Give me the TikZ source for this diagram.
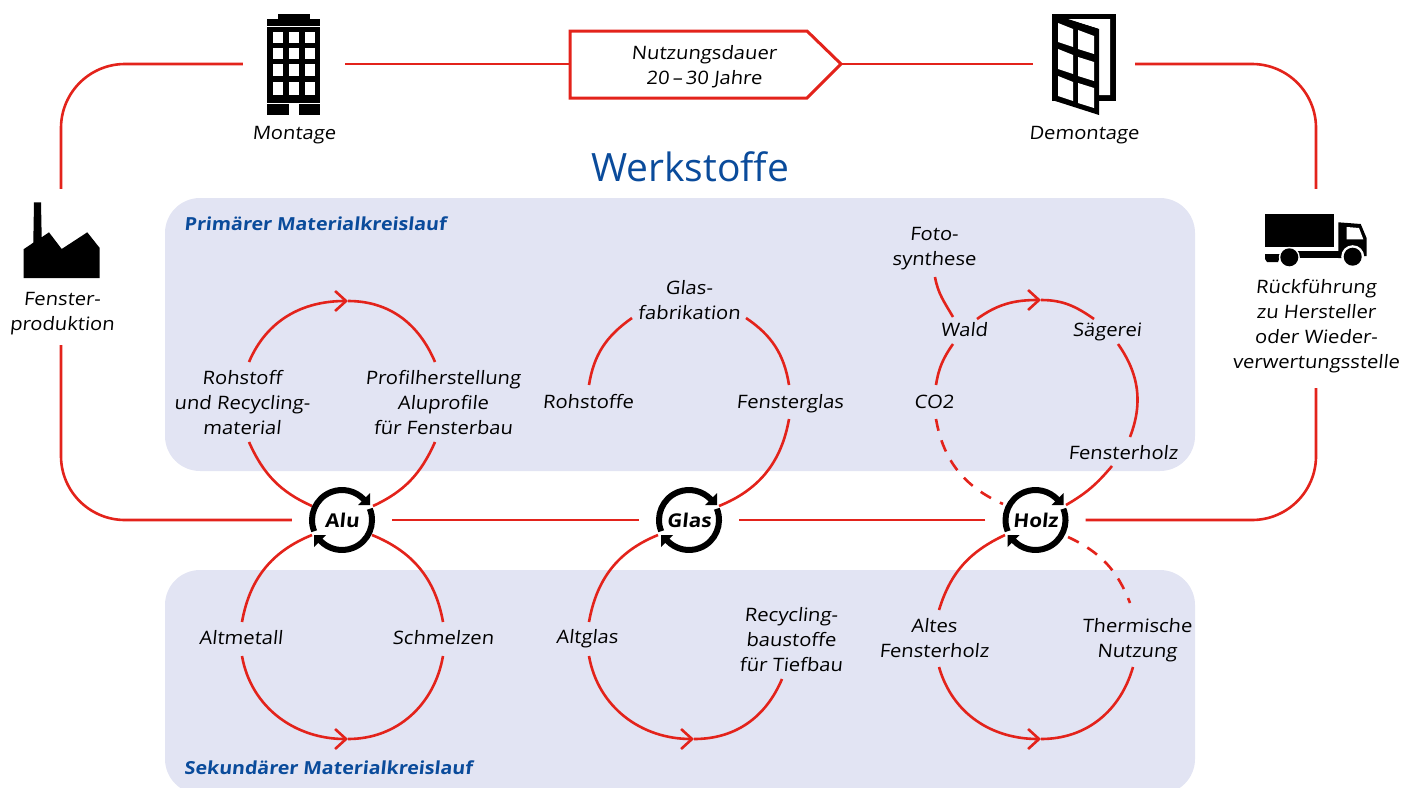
\documentclass[tikz,border=0pt]{standalone}
\usepackage{fontspec}
\setmainfont{Open Sans}
\newfontfamily\kreisfont{Open Sans}[FakeStretch=1.09,FakeSlant=0.1]
\usetikzlibrary{arrows.meta}
\definecolor{kreisrot}{HTML}{E3231B}
\definecolor{kreisblau}{HTML}{0A4B9B}
\definecolor{flaeche}{HTML}{E2E4F3}
\tikzset{
  redline/.style={draw=kreisrot,line width=2.6pt},
  redarrow/.style={redline,-{Straight Barb[length=11pt,width=20pt,line width=2.6pt]}},
  reddash/.style={redline,dash pattern=on 12pt off 10pt},
  panel/.style={fill=flaeche,rounded corners=35pt},
  looplabel/.style={align=center,inner sep=0pt,font=\kreisfont\fontsize{18.5}{25}\selectfont},
  headlabel/.style={anchor=west,inner sep=0pt,text=kreisblau,font=\kreisfont\fontsize{18}{22}\selectfont\bfseries},
  hub/.style={circle,minimum size=100pt,inner sep=0pt,font=\kreisfont\fontsize{19}{22}\selectfont\bfseries},
  ringline/.style={line width=6pt},
  iconspace/.style={inner sep=0pt,minimum width=102pt,minimum height=#1}
}
\begin{document}
\begin{tikzpicture}[x=1pt,y=-1pt]
  \useasboundingbox (0,0) rectangle (1402,787);

  \fill[panel] (165,198) rectangle (1195,471);
  \fill[panel] (165,570) rectangle (1195,794);

  \node[iconspace=156pt] (fabrik) at (61,267) {};
  \node[iconspace=60pt] (montage) at (294,64) {};
  \node[iconspace=60pt] (demontage) at (1084,64) {};
  \node[iconspace=199pt] (lkw) at (1316,288.5) {};
  \node[hub] (alu) at (342,520) {Alu};
  \node[hub] (glas) at (689,520) {Glas};
  \node[hub] (holz) at (1035.5,520) {Holz};
  \node[looplabel] (dauer) at (704,67) {Nutzungsdauer\\20\,–\,30 Jahre};
  \coordinate (dauerein) at (570,64);
  \coordinate (daueraus) at (841,64);
  \draw[redline,line width=3pt] (570,31) -- (807,31) -- (daueraus) -- (807,98) -- (570,98) -- cycle;

  \node[looplabel] (fabriktxt) at (62,314) {Fenster-\\produktion};
  \node[looplabel] (montagetxt) at (294,135) {Montage};
  \node[looplabel] (demontagetxt) at (1084,135) {Demontage};
  \node[looplabel] (lkwtxt) at (1316,326) {Rückführung\\zu Hersteller\\oder Wieder-\\verwertungsstelle};
  \node[inner sep=0pt,text=kreisblau,font=\fontsize{39}{40}\selectfont] (werkstoffe) at (690,167) {Werkstoffe};
  \node[headlabel] (primaer) at (184,224) {Primärer Materialkreislauf};
  \node[headlabel] (sekundaer) at (184,768) {Sekundärer Materialkreislauf};

  \node[looplabel] (rohstoff) at (242,403) {Rohstoff\\und Recycling-\\material};
  \node[looplabel] (profil) at (443,403) {Profilherstellung\\Aluprofile\\für Fensterbau};
  \node[looplabel] (altmetall) at (241,638) {Altmetall};
  \node[looplabel] (schmelzen) at (443,638) {Schmelzen};
  \node[looplabel] (glasfab) at (689,300) {Glas-\\fabrikation};
  \node[looplabel] (rohstoffe) at (588,402) {Rohstoffe};
  \node[looplabel] (fensterglas) at (790,404) {Fensterglas};
  \node[looplabel] (altglas) at (587,639) {Altglas};
  \node[looplabel] (recycling) at (791,640) {Recycling-\\baustoffe\\für Tiefbau};
  \node[looplabel] (foto) at (934,249) {Foto-\\synthese};
  \node[looplabel] (wald) at (964,330) {Wald};
  \node[looplabel] (saegerei) at (1107,332) {Sägerei};
  \node[looplabel] (cozwei) at (934,402) {CO2};
  \node[looplabel] (fensterholz) at (1123,453) {Fensterholz};
  \node[looplabel] (altholz) at (934,638) {Altes\\Fensterholz};
  \node[looplabel] (thermisch) at (1137,640) {Thermische\\Nutzung};

  \coordinate (alutop) at (348,301);
  \coordinate (alubot) at (348,739);
  \coordinate (glasbot) at (694,739);
  \coordinate (holztop) at (1041,300);
  \coordinate (holzbot) at (1041,739);

  \draw[redline,rounded corners=64pt] (fabrik.north) |- (montage.west);
  \draw[redline] (montage.east) -- (dauerein);
  \draw[redline] (daueraus) -- (demontage.west);
  \draw[redline,rounded corners=64pt] (demontage.east) -| (lkw.north);
  \draw[redline,rounded corners=64pt] (lkw.south) |- (holz.east);
  \draw[redline] (holz.west) -- (glas.east);
  \draw[redline] (glas.west) -- (alu.east);
  \draw[redline,rounded corners=64pt] (alu.west) -| (fabrik.south);

  \draw[redarrow] ([shift={(7,-41)}]rohstoff.center) to[out=67,in=180] (alutop);
  \draw[redline] (alutop) to[out=0,in=113] ([shift={(-8,-41)}]profil.center);
  \draw[redline] ([shift={(7,39)}]rohstoff.center) to[out=-66,in=156] ([shift={(-30,-14)}]alu.center);
  \draw[redline] ([shift={(-8,39)}]profil.center) to[out=-114,in=25] ([shift={(31,-14)}]alu.center);
  \draw[redline] ([shift={(-30,15)}]alu.center) to[out=202,in=80] ([shift={(1,-16)}]altmetall.center);
  \draw[redarrow] ([shift={(1,18)}]altmetall.center) to[out=-80,in=180] (alubot);
  \draw[redline] (alubot) to[out=0,in=-100] ([shift={(0,18)}]schmelzen.center);
  \draw[redline] ([shift={(30,15)}]alu.center) to[out=-22,in=100] ([shift={(0,-16)}]schmelzen.center);

  \draw[redline] ([shift={(1,-17)}]rohstoffe.center) to[out=81,in=-145] ([shift={(-57,18)}]glasfab.center);
  \draw[redline] ([shift={(57,18)}]glasfab.center) to[out=-34,in=99] ([shift={(-1,-19)}]fensterglas.center);
  \draw[redline] ([shift={(-1,15)}]fensterglas.center) to[out=-100,in=22] ([shift={(30,-14)}]glas.center);
  \draw[redline] ([shift={(-31,15)}]glas.center) to[out=202,in=80] ([shift={(2,-17)}]altglas.center);
  \draw[redarrow] ([shift={(2,17)}]altglas.center) to[out=-80,in=180] (glasbot);
  \draw[redline] (glasbot) to[out=0,in=-113] ([shift={(-9,39)}]recycling.center);

  \draw[redline] ([shift={(1,28)}]foto.center) to[out=-80,in=120] ([shift={(-11,-13)}]wald.center);
  \draw[redarrow] ([shift={(13,-11)}]wald.center) to[out=36,in=180] (holztop);
  \draw[redline] (holztop) to[out=0,in=145] ([shift={(-13,-13)}]saegerei.center);
  \draw[redline] ([shift={(11,12)}]saegerei.center) to[out=-55,in=69] ([shift={(7,-16)}]fensterholz.center);
  \draw[redline] ([shift={(-11,13)}]fensterholz.center) to[out=-130,in=30] ([shift={(30.5,-15)}]holz.center);
  \draw[redline] ([shift={(-11,14)}]wald.center) to[out=-125,in=81] ([shift={(2,-17)}]cozwei.center);
  \draw[reddash] ([shift={(2,17)}]cozwei.center) to[out=-80,in=156] ([shift={(-32.5,-16)}]holz.center);
  \draw[redline] ([shift={(-30.5,15)}]holz.center) to[out=205,in=73] ([shift={(5,-28)}]altholz.center);
  \draw[redarrow] ([shift={(5,29)}]altholz.center) to[out=-74,in=180] (holzbot);
  \draw[redline] (holzbot) to[out=0,in=-106] ([shift={(-4,27)}]thermisch.center);
  \draw[reddash] ([shift={(32.5,17)}]holz.center) to[out=-25,in=111] ([shift={(-7,-37)}]thermisch.center);

  \foreach \hubnode in {alu,glas,holz} {
    \foreach \turn in {0,180} {
      \begin{scope}[shift={(\hubnode.center)},rotate=\turn]
        \draw[ringline] (158:30) arc[start angle=158,end angle=318,radius=30];
        \fill (16,-15) -- (28,-15) -- (28,-27) -- cycle;
      \end{scope}
    }
  }

  \fill (278,14) rectangle (310,20);
  \fill (267,19) rectangle (320,26);
  \fill (267,27) rectangle (320,103);
  \fill (267,104) rectangle (289,115);
  \fill (299,104) rectangle (320,115);
  \foreach \wx in {273,289,305}
    \foreach \wy/\wh in {32/11,48/11,64/12,82/13}
      \fill[white] (\wx,\wy) rectangle ++(10,\wh);

  \fill (1052,14) rectangle (1116,101);
  \fill[white] (1067,19) -- (1110,19) -- (1110,95) -- (1099,95) -- (1099,29) -- cycle;
  \fill (1052,14) -- (1099,29) -- (1099,115) -- (1052,100) -- cycle;
  \foreach \px/\pw/\ya/\yb/\yc/\yd in {
      1058/15/23/29/42/47, 1058/15/49/55/69/74, 1058/15/76/82/96/101,
      1078/16/30/36/49/54, 1078/16/57/62/76/81, 1078/16/83/88/103/108}
    \fill[white] (\px,\ya) -- (\px+\pw,\yb) -- (\px+\pw,\yd) -- (\px,\yc) -- cycle;

  \fill (23.5,278) -- (99.7,278) -- (99.7,248) -- (87.3,232.3) -- (61.7,249) -- (49,232.3) -- (41.7,237.3) -- (41,202.3) -- (34,202.3) -- (33.3,242.7) -- (23.5,249.3) -- cycle;

  \fill (1265,214.3) rectangle (1334.3,247.3);
  \fill (1338.3,222.3) -- (1360.7,224) -- (1366.7,238.3) -- (1366.7,256) -- (1345,258) -- (1338.3,258) -- cycle;
  \fill (1296,251) rectangle (1345,258);
  \fill[white] (1346.7,227) -- (1359,228) -- (1363.3,239.3) -- (1346.7,239.3) -- cycle;
  \fill (1265,254) -- (1281,254) -- (1278,262) -- (1267,262) -- (1265,259) -- cycle;
  \fill[white] (1352.7,256.7) circle[radius=11.5];
  \fill (1352.7,256.7) circle[radius=9];
  \fill[white] (1289.3,257.3) circle[radius=10.5];
  \fill (1289.3,257.3) circle[radius=9];
\end{tikzpicture}
\end{document}
